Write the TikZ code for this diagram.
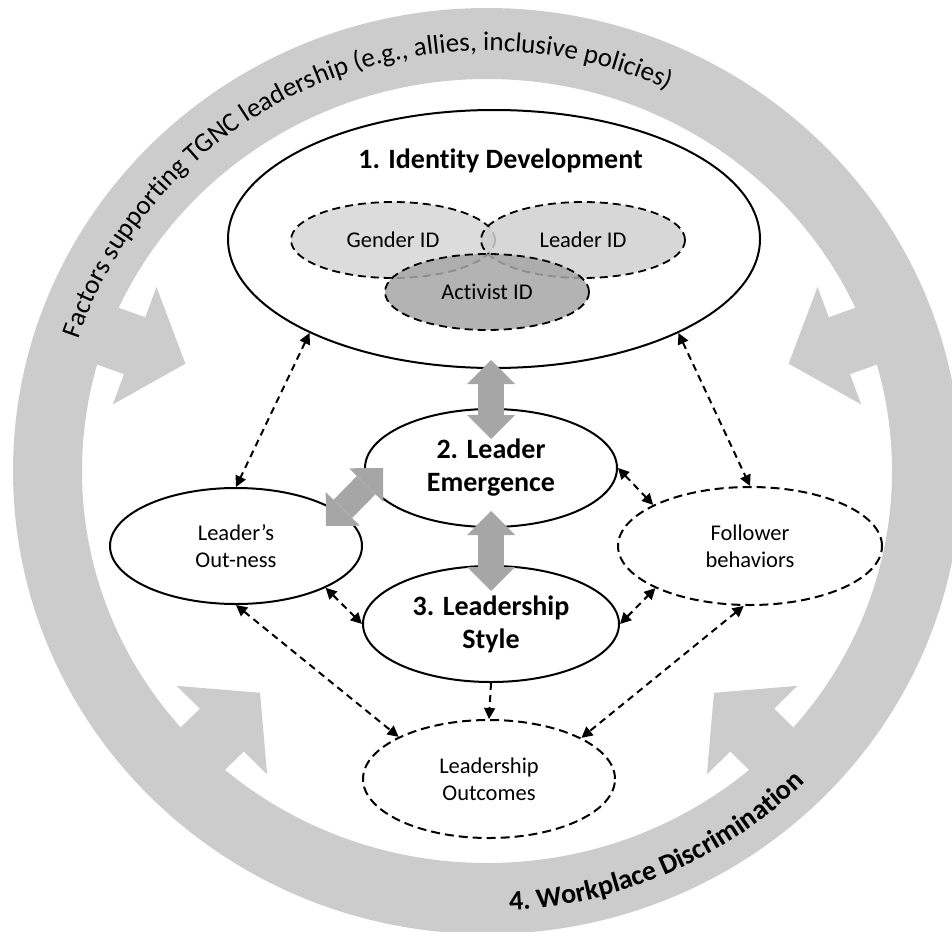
\documentclass[tikz,border=0pt]{standalone}
\usepackage{fontspec}
\setmainfont{Carlito}[Ligatures=NoCommon]
\usetikzlibrary{shapes.geometric,arrows.meta,calc,decorations.text}

\definecolor{ringgray}{HTML}{CCCCCC}
\definecolor{linkgray}{HTML}{A6A6A6}
\definecolor{genderfill}{HTML}{DCDCDC}
\definecolor{leaderfill}{HTML}{D0D0D0}
\definecolor{activistfill}{HTML}{A6A6A6}

\newcommand{\ringfont}{\fontsize{27}{27}\selectfont}
\newcommand{\ringboldfont}{\fontsize{28}{28}\selectfont\bfseries}

\tikzset{
  oval/.style={ellipse, draw=black, line width=2pt, fill=white, inner sep=0pt, align=center},
  dashoval/.style={oval, dash pattern=on 9pt off 5pt},
  idoval/.style={ellipse, draw=black, line width=1.8pt, dash pattern=on 8pt off 5pt,
                 inner sep=0pt, minimum width=204pt, minimum height=76pt},
  bodytext/.style={font=\fontsize{22.5}{27}\selectfont},
  headtext/.style={font=\fontsize{28}{33}\selectfont\bfseries},
  link/.style={line width=2pt, dash pattern=on 7pt off 5pt,
               {Triangle[length=11pt,width=11pt]}-{Triangle[length=11pt,width=11pt]}},
  onelink/.style={line width=2pt, dash pattern=on 7pt off 5pt,
               -{Triangle[length=11pt,width=11pt]}},
  bigarrow/.style={draw=linkgray, line width=26pt,
               {Triangle[length=24pt,width=48pt,line width=0pt]}-{Triangle[length=24pt,width=48pt,line width=0pt]}},
  inarrow/.style={fill=ringgray},
}

\begin{document}
\begin{tikzpicture}[x=1pt, y=-1pt]
\useasboundingbox (0,0) rectangle (952,931);
\coordinate (ringc) at (487,471);

\begin{scope}
\clip (0,0) rectangle (952,931);
% surrounding ring
\fill[ringgray, even odd rule]
  (ringc) ellipse [x radius=474, y radius=463]
  (ringc) ellipse [x radius=405, y radius=392];
% inward-pointing arrows on the ring
\begin{scope}[shift={(ringc)}, yscale=0.977]
  \foreach \ang in {160, 20, 225, 315} {
    \begin{scope}[rotate=\ang]
      \fill[inarrow] (321,0) -- (375,64) -- (375,31) -- (440,31)
        -- (440,-31) -- (375,-31) -- (375,-64) -- cycle;
    \end{scope}
  }
\end{scope}
\end{scope}

% ring labels
\path[decorate, decoration={text along path, text align=center,
  text={|\ringfont|Factors supporting TGNC leadership (e.g., allies, inclusive policies)}}]
  ($(ringc)+(-175:430 and 420)$) arc[start angle=-175, end angle=-52, x radius=430, y radius=420];
\path[decorate, decoration={text along path, text align=center,
  text={|\ringboldfont|4. Workplace Discrimination}}]
  ($(ringc)+(100:450 and 440)$) arc[start angle=100, end angle=32, x radius=450, y radius=440];

% identity development
\node[oval, minimum width=532pt, minimum height=258pt] (idev) at (494,239) {};
\node[headtext, anchor=base] (idtitle) at (500.5,168) {1. Identity Development};
\node[idoval, fill=genderfill, bodytext] (gid) at (393,240) {Gender ID};
\node[idoval, fill=leaderfill, fill opacity=.85, text opacity=1, bodytext] (lid) at (583,240) {Leader ID};
\node[idoval, fill=activistfill, fill opacity=.85, text opacity=1, bodytext] (aid) at (487,292) {Activist ID};

% central constructs
\node[oval, headtext, minimum width=252pt, minimum height=118pt] (emer) at (491,468) {2. Leader\\Emergence};
\node[oval, headtext, minimum width=256pt, minimum height=116pt] (style) at (491,624) {3. Leadership\\Style};
\node[oval, bodytext, minimum width=252pt, minimum height=116pt] (outn) at (236,546) {Leader’s\\Out-ness};
\node[dashoval, bodytext, minimum width=264pt, minimum height=118pt] (foll) at (750,546) {Follower\\behaviors};
\node[dashoval, bodytext, minimum width=252pt, minimum height=118pt] (outc) at (489,779) {Leadership\\Outcomes};

% dashed links
\draw[link] (idev.207) -- (outn.north);
\draw[link] (idev.333) -- (foll.north);
\draw[link] (emer.east) -- (foll.157);
\draw[link] (style.east) -- (foll.204);
\draw[link] (outn.335) -- (style.west);
\draw[link] (outn.south) -- (outc.155);
\draw[link] (foll.264) -- (outc.24);
\draw[onelink] (style.south) -- (outc.north);

% thick grey links
\draw[bigarrow] ($(idev.south)+(-3,-9)$) -- ($(emer.north)+(0,31)$);
\draw[bigarrow] ($(emer.south)+(0,-17)$) -- ($(style.north)+(0,26)$);
\draw[bigarrow] ($(outn.center)+(90,-20)$) -- ($(emer.west)+(19,0)$);
\end{tikzpicture}
\end{document}
